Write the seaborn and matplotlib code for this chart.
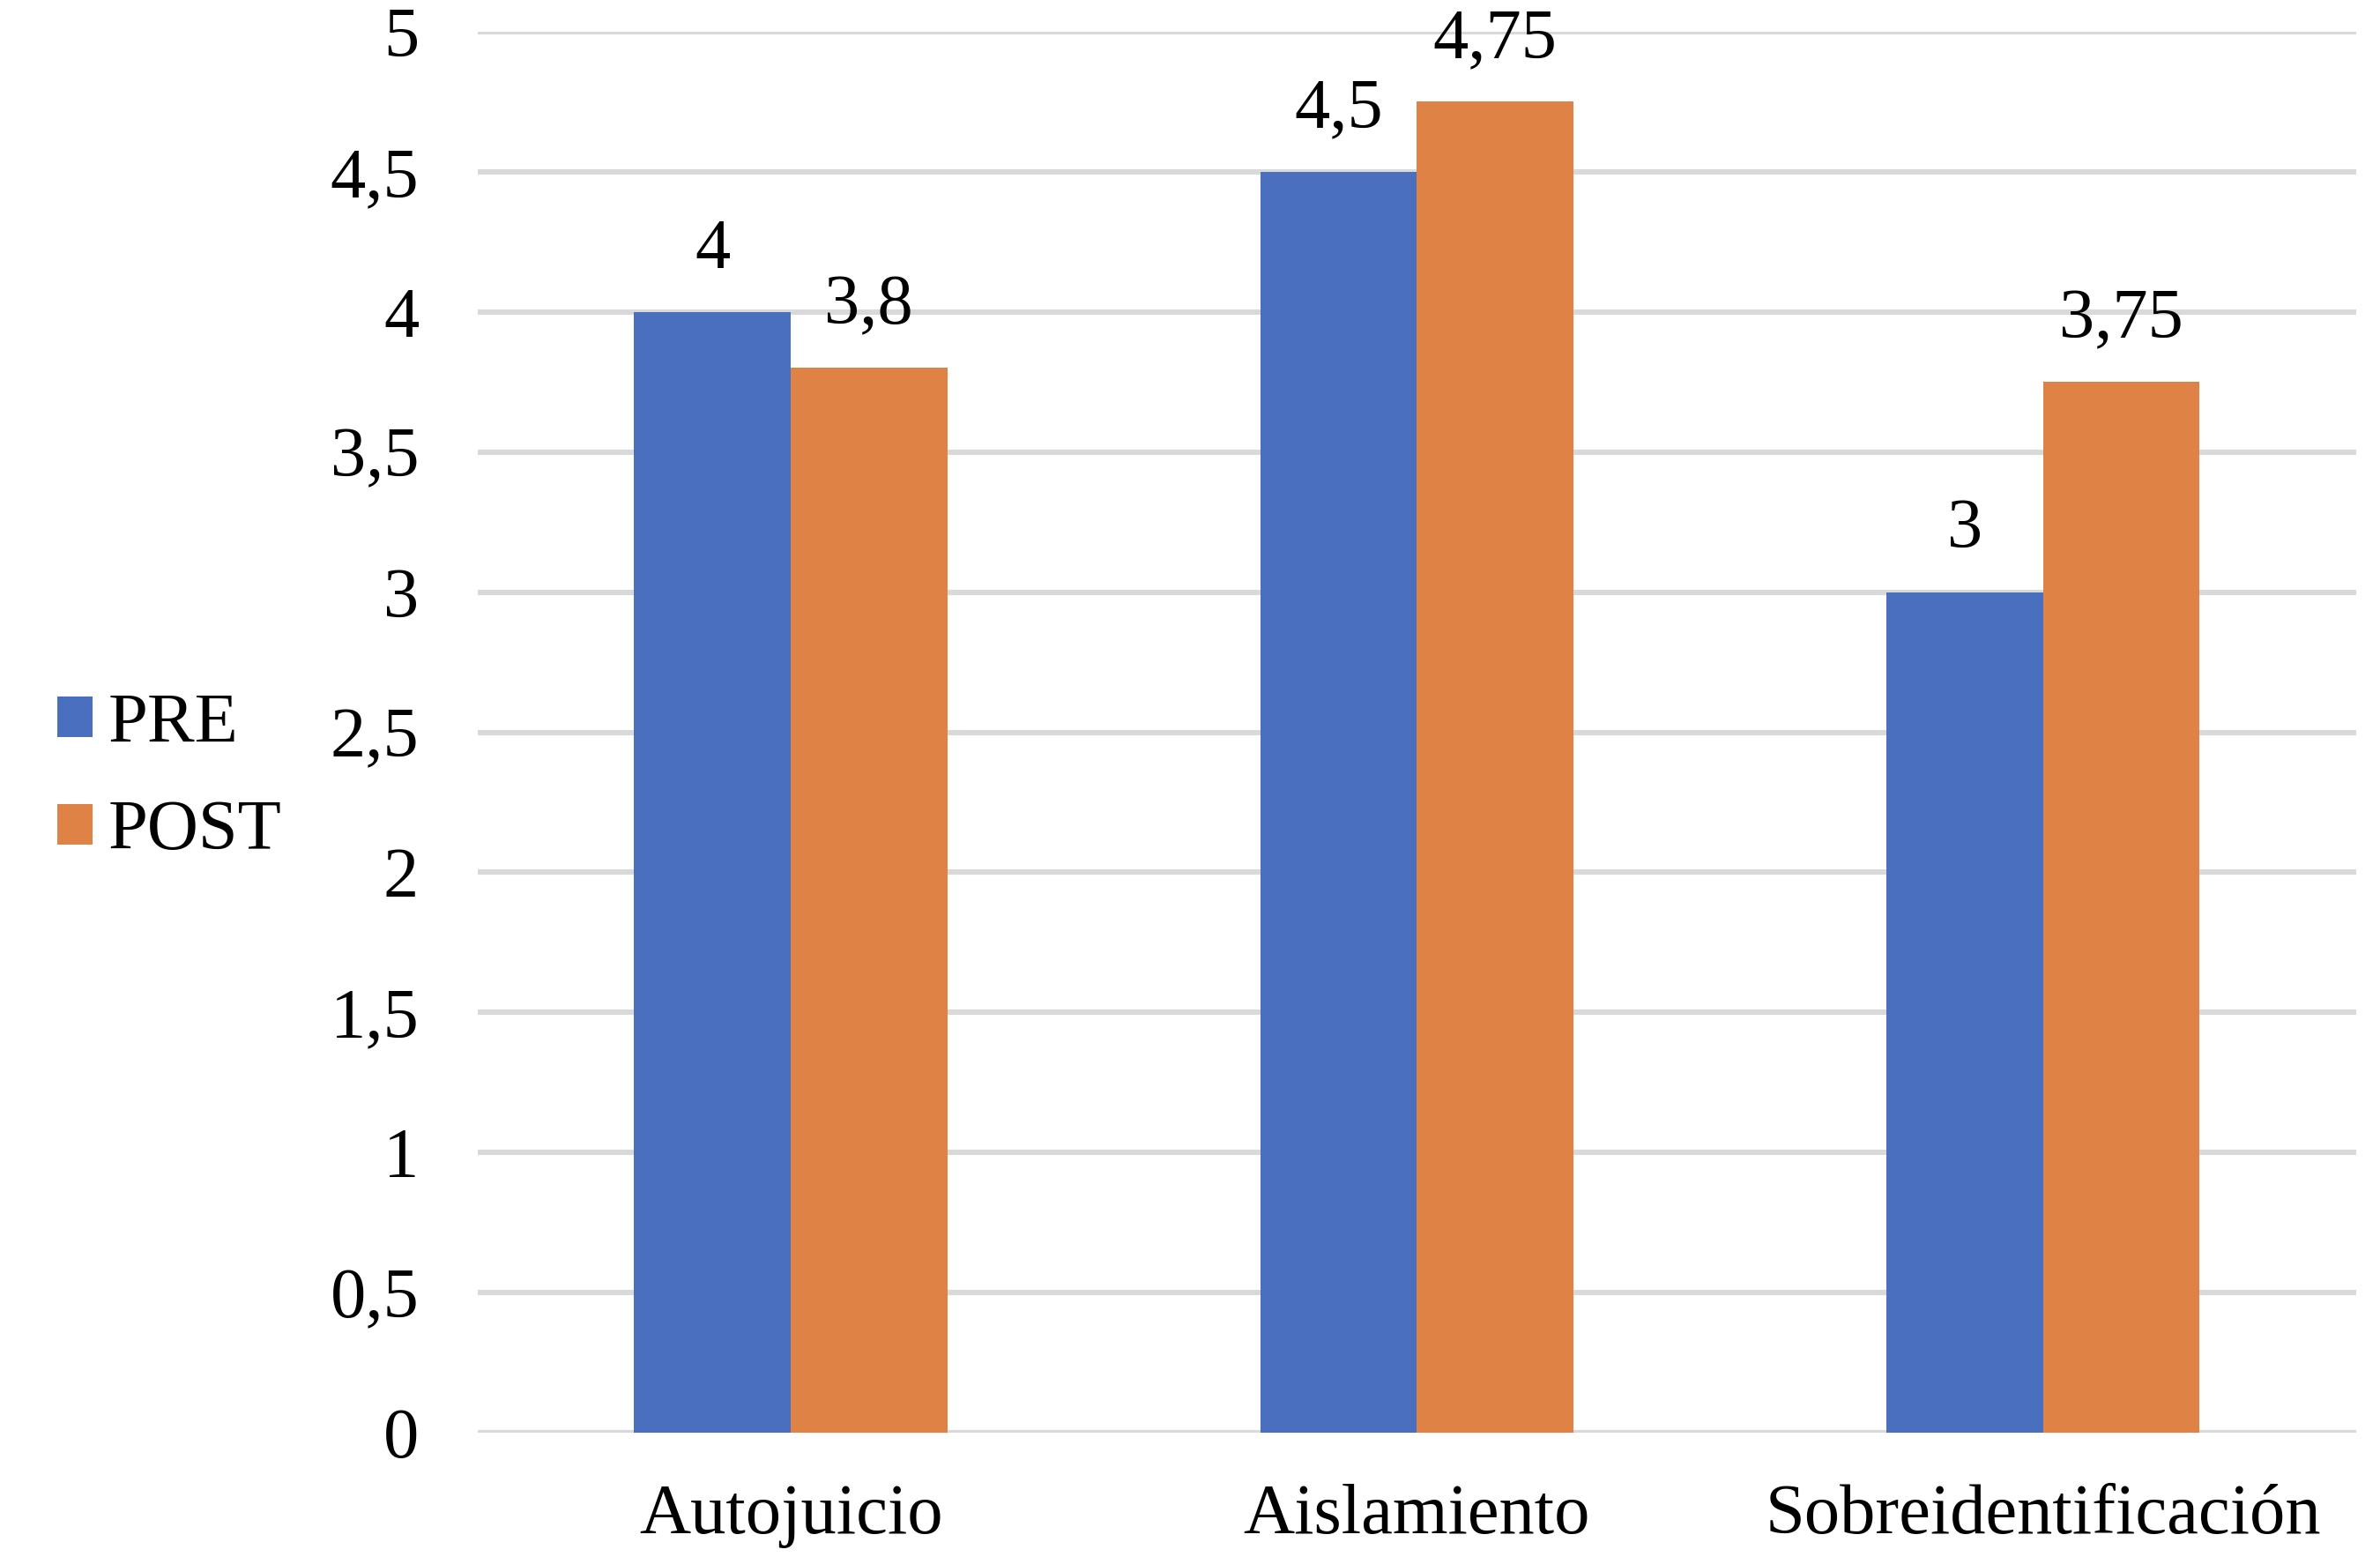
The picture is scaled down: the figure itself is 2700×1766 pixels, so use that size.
import matplotlib
matplotlib.use("Agg")
import matplotlib.pyplot as plt
import seaborn as sns
import pandas as pd

# chart values
categories = ["Autojuicio", "Aislamiento", "Sobreidentificación"]
pre_values = [4, 4.5, 3]
post_values = [3.8, 4.75, 3.75]
series_names = ["PRE", "POST"]
yticks = [0, 0.5, 1, 1.5, 2, 2.5, 3, 3.5, 4, 4.5, 5]

pre_color = "#4A6FBE"
post_color = "#DE8245"
grid_color = "#D9D9D9"

df = pd.DataFrame({
    "categoria": categories * 2,
    "valor": pre_values + post_values,
    "serie": [series_names[0]] * 3 + [series_names[1]] * 3,
})

sns.set_style("white")
plt.rcParams["font.family"] = ["Liberation Serif", "DejaVu Serif"]
plt.rcParams["text.color"] = "black"
plt.rcParams["xtick.color"] = "black"
plt.rcParams["ytick.color"] = "black"

fig = plt.figure(figsize=(13.5, 8.83), dpi=200)
ax = fig.add_axes([0.2007, 0.0798, 0.7893, 0.8998])

sns.barplot(data=df, x="categoria", y="valor", hue="serie", order=categories,
            hue_order=series_names, palette=[pre_color, post_color],
            width=0.5, saturation=1, linewidth=0, ax=ax, zorder=3)

def fmt(v):
    # comma as decimal separator
    return ("%g" % v).replace(".", ",")

for cont in ax.containers:
    ax.bar_label(cont, labels=[fmt(b.get_height()) for b in cont],
                 padding=12, fontsize=29, color="black")

ax.set_xlim(-0.5, 2.5)
ax.set_ylim(0, 5)
ax.set_yticks(yticks)
ax.set_yticklabels([fmt(t) for t in yticks])
ax.yaxis.grid(True, color=grid_color, linewidth=2.2, zorder=0)
ax.set_axisbelow(True)
for sp in ax.spines.values():
    sp.set_visible(False)
ax.tick_params(axis="y", length=0, pad=24, labelsize=29, labelcolor="black")
ax.tick_params(axis="x", length=0, pad=21, labelsize=29, labelcolor="black")
ax.set_xlabel("")
ax.set_ylabel("")

handles, labels = ax.get_legend_handles_labels()
ax.get_legend().remove()
leg = fig.legend(handles, labels, loc="center left", bbox_to_anchor=(0.012, 0.5),
                 frameon=False, fontsize=29, handlelength=0.5, handleheight=0.5,
                 handletextpad=0.22, labelspacing=0.6, borderaxespad=0)
for t in leg.get_texts():
    t.set_color("black")

fig.savefig("out.png", dpi=200, facecolor="white")
